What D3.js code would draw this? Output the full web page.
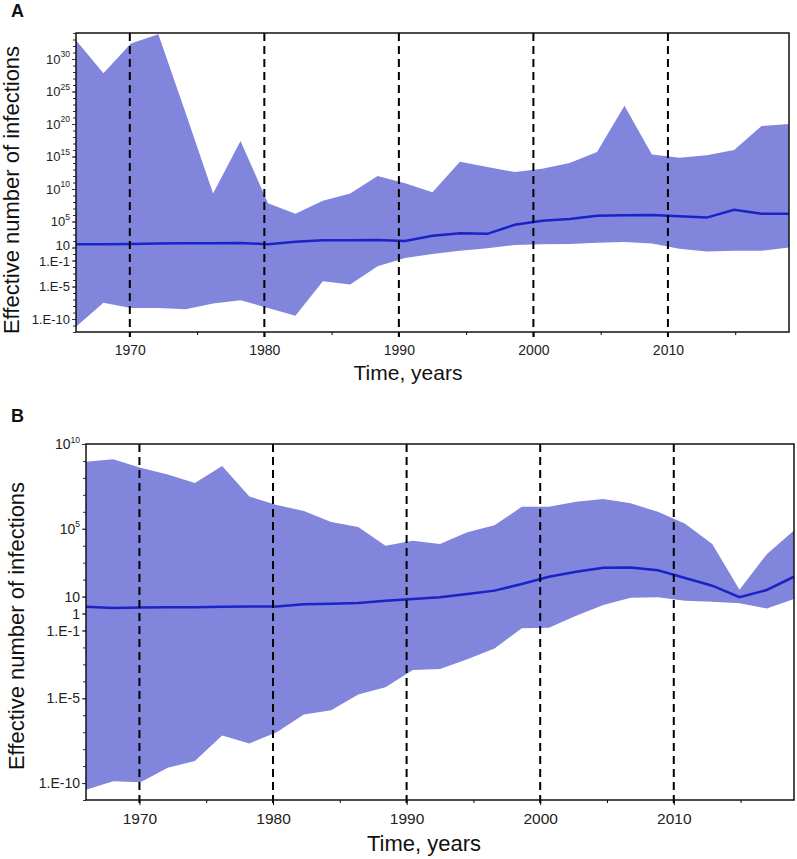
<!DOCTYPE html>
<html>
<head>
<meta charset="utf-8">
<script src="https://cdn.jsdelivr.net/npm/d3@7"></script>
<style>
  body { margin: 0; background: #fff; }
  svg { display: block; font-family: "Liberation Sans", Arial, sans-serif; }
</style>
</head>
<body>
<svg id="chart" width="797" height="859"></svg>
<script>
// sample times shared by both panels (years)
const years = [1966, 1968.04, 1970.08, 1972.12, 1974.15, 1976.19, 1978.23, 1980.27, 1982.31,
  1984.35, 1986.38, 1988.42, 1990.46, 1992.5, 1994.54, 1996.58, 1998.62, 2000.65, 2002.69,
  2004.73, 2006.77, 2008.81, 2010.85, 2012.88, 2014.92, 2016.96, 2019];

// panel A, log10 of effective number of infections
const aUpper = [32.9, 27.8, 32.4, 33.8, 21.7, 9.3, 17.4, 7.8, 6.2, 8.2, 9.3, 12.0, 10.9, 9.5,
  14.2, 13.4, 12.6, 13.1, 14.0, 15.7, 22.8, 15.3, 14.8, 15.2, 16.0, 19.7, 20.0];
const aMedian = [1.5, 1.5, 1.55, 1.6, 1.65, 1.65, 1.7, 1.5, 1.9, 2.1, 2.1, 2.15, 2.0, 2.8,
  3.2, 3.1, 4.5, 5.1, 5.4, 5.9, 5.95, 6.0, 5.8, 5.6, 6.8, 6.2, 6.2];
const aLower = [-11.2, -7.5, -8.3, -8.3, -8.5, -7.6, -7.1, -8.3, -9.5, -4.2, -4.7, -1.9, -0.6,
  0.0, 0.5, 0.9, 1.4, 1.5, 1.55, 1.75, 1.85, 1.6, 0.8, 0.4, 0.5, 0.5, 1.0];

// panel B, log10 of effective number of infections
const bUpper = [8.96, 9.1, 8.6, 8.2, 7.7, 8.7, 6.9, 6.4, 6.05, 5.4, 5.1, 4.0, 4.3, 4.1, 4.8,
  5.2, 6.3, 6.3, 6.6, 6.75, 6.5, 6.0, 5.3, 4.1, 1.4, 3.5, 4.9];
const bMedian = [0.4, 0.33, 0.35, 0.37, 0.37, 0.4, 0.42, 0.42, 0.54, 0.58, 0.62, 0.76, 0.86,
  0.96, 1.15, 1.35, 1.74, 2.17, 2.47, 2.7, 2.72, 2.55, 2.1, 1.64, 0.96, 1.39, 2.17];
const bLower = [-10.4, -9.9, -9.96, -9.1, -8.7, -7.2, -7.66, -7.0, -5.95, -5.7, -4.77, -4.35,
  -3.33, -3.27, -2.7, -2.06, -0.87, -0.84, -0.13, 0.5, 0.93, 0.96, 0.76, 0.7, 0.6, 0.3, 0.86];

// labelled tick exponents
const aTicks = [30, 25, 20, 15, 10, 5, 1, -1, -5, -10];
const bTicks = [10, 5, 1, 0, -1, -5, -10];
const xTicks = [1970, 1980, 1990, 2000, 2010];
const xMinor = [1975, 1985, 1995, 2005, 2015];

const svg = d3.select('#chart');

function drawPanel(cfg) {
    let g = svg.append('g');

    //scales
    let x = d3.scaleLinear().domain([1966, 2019]).range([cfg.left, cfg.right]);
    let y = d3.scaleLog().domain([10 ** cfg.minExp, 10 ** cfg.maxExp]).range([cfg.bottom, cfg.top]);

    let rows = years.map((t, i) => ({t: t, lo: 10 ** cfg.lower[i], md: 10 ** cfg.median[i], hi: 10 ** cfg.upper[i]}));

    g.append('clipPath').attr('id', 'clip' + cfg.name)
        .append('rect')
        .attr('x', cfg.left).attr('y', cfg.top)
        .attr('width', cfg.right - cfg.left).attr('height', cfg.bottom - cfg.top);

    let plot = g.append('g').attr('clip-path', `url(#clip${cfg.name})`);

    // credible band
    plot.append('path')
        .datum(rows)
        .attr('fill', '#8186dc')
        .attr('d', d3.area().x(d => x(d.t)).y0(d => y(d.lo)).y1(d => y(d.hi)));

    // median
    plot.append('path')
        .datum(rows)
        .attr('fill', 'none')
        .attr('stroke', '#1b22c6')
        .attr('stroke-width', 2.5)
        .attr('d', d3.line().x(d => x(d.t)).y(d => y(d.md)));

    // dashed decade lines
    g.selectAll('.vline').data(xTicks).join('line')
        .attr('x1', d => x(d)).attr('x2', d => x(d))
        .attr('y1', cfg.top).attr('y2', cfg.bottom + 5)
        .attr('stroke', '#000')
        .attr('stroke-width', 2)
        .attr('stroke-dasharray', '8,5');

    // x axis
    let xAxisG = g.append('g').attr('transform', `translate(0,${cfg.bottom})`);
    xAxisG.call(d3.axisBottom(x).tickValues(xMinor).tickSize(3).tickFormat(''));
    xAxisG.append('g').call(d3.axisBottom(x).tickValues(xTicks).tickSize(5).tickPadding(cfg.xPad).tickFormat(d3.format('d')));
    xAxisG.selectAll('.domain').remove();
    xAxisG.selectAll('text')
        .attr('font-size', cfg.xFont)
        .attr('font-family', '"Liberation Sans", Arial, sans-serif')
        .attr('fill', '#222');

    // y axis, one minor tick per decade
    let decades = d3.range(cfg.minExp, cfg.maxExp + 1).map(e => 10 ** e);
    let yAxisG = g.append('g').attr('transform', `translate(${cfg.left},0)`);
    yAxisG.call(d3.axisLeft(y).tickValues(decades).tickSize(3).tickFormat(''));
    yAxisG.append('g').call(d3.axisLeft(y).tickValues(cfg.ticks.map(e => 10 ** e)).tickSize(4).tickFormat(''));
    yAxisG.selectAll('.domain').remove();
    yAxisG.selectAll('line').attr('stroke', '#333');

    // y tick labels with superscripts
    let labels = g.selectAll('.ylab').data(cfg.ticks).join('text')
        .attr('class', 'ylab')
        .attr('x', cfg.left - 6)
        .attr('y', d => y(10 ** d) + (cfg.nudge[d] || 0))
        .attr('dy', '0.36em')
        .attr('text-anchor', 'end')
        .attr('font-size', cfg.yFont)
        .attr('fill', '#222');
    labels.each(function(e) {
        let t = d3.select(this);
        if (e >= 5) {
            t.append('tspan').text('10');
            t.append('tspan').attr('font-size', 8.5).attr('dy', '-0.75em').text(e);
        } else if (e === 1) {
            t.text('10');
        } else if (e === 0) {
            t.text('1');
        } else {
            t.text('1.E' + e);
        }
    });

    // frame
    g.append('rect')
        .attr('x', cfg.left).attr('y', cfg.top)
        .attr('width', cfg.right - cfg.left).attr('height', cfg.bottom - cfg.top)
        .attr('fill', 'none')
        .attr('stroke', '#111')
        .attr('stroke-width', 1.5);

    // titles
    g.append('text')
        .attr('transform', `translate(${cfg.yLabelX},${cfg.yLabelY}) rotate(-90)`)
        .attr('text-anchor', 'middle')
        .attr('font-size', 22)
        .attr('fill', '#111')
        .text('Effective number of infections');

    g.append('text')
        .attr('x', cfg.xLabelX).attr('y', cfg.xLabelY)
        .attr('text-anchor', 'middle')
        .attr('font-size', cfg.xTitleFont)
        .attr('fill', '#111')
        .text('Time, years');

    g.append('text')
        .attr('x', 11).attr('y', cfg.letterY)
        .attr('font-size', 18)
        .attr('font-weight', 'bold')
        .attr('fill', '#111')
        .text(cfg.name);
}

drawPanel({
    name: 'A', left: 76, right: 789, top: 33, bottom: 332,
    minExp: -12, maxExp: 34,
    upper: aUpper, median: aMedian, lower: aLower, ticks: aTicks,
    yFont: 13, nudge: {1: -2, '-1': 1},
    xPad: 8, xFont: 14, xTitleFont: 21,
    yLabelX: 19, yLabelY: 190, xLabelX: 408, xLabelY: 380, letterY: 17
});

drawPanel({
    name: 'B', left: 86, right: 794, top: 444, bottom: 800,
    minExp: -11, maxExp: 10,
    upper: bUpper, median: bMedian, lower: bLower, ticks: bTicks,
    yFont: 14, nudge: {},
    xPad: 8, xFont: 15.5, xTitleFont: 22,
    yLabelX: 24, yLabelY: 626, xLabelX: 424, xLabelY: 851, letterY: 422
});
</script>
</body>
</html>
